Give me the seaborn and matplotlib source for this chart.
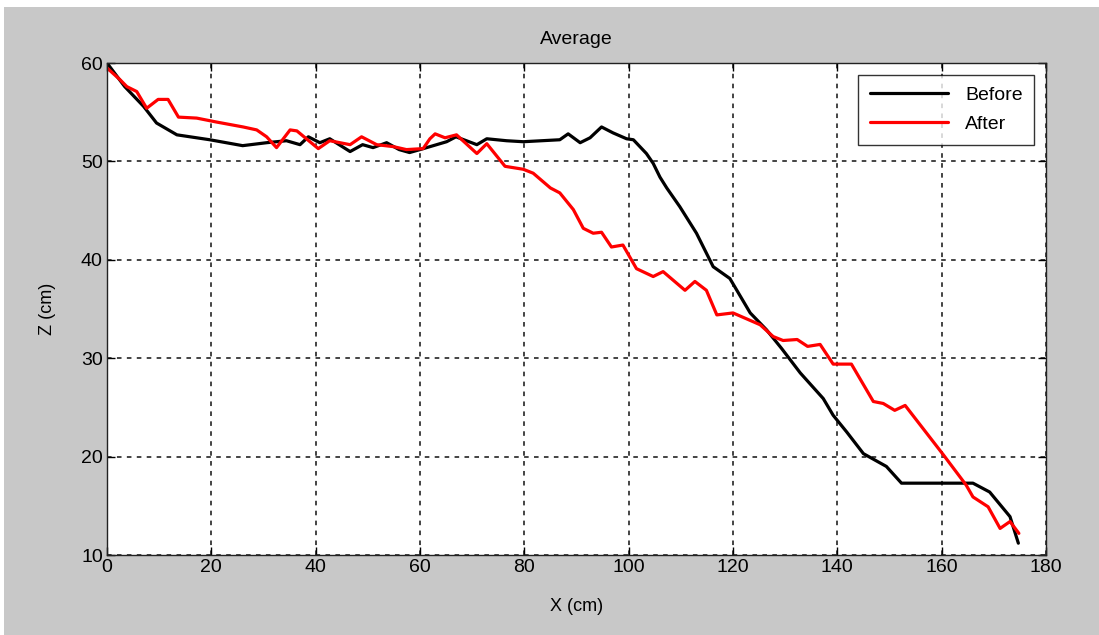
import matplotlib
matplotlib.use("Agg")
import matplotlib.pyplot as plt
from matplotlib.patches import Rectangle
import seaborn as sns
import pandas as pd

before_x = [0, 3.4, 7, 9.5, 13.4, 19.7, 26, 30.6, 34.4, 37, 38.6, 40.8, 42.7, 46.6, 49, 51, 53.6,
            56, 58, 60, 65.1, 66.9, 70.9, 72.8, 76.6, 79.8, 86.8, 88.4, 90.7, 92.6, 94.8, 97, 99.6,
            100.9, 103.4, 104.7, 106, 107.3, 109.8, 113, 116.2, 119.4, 123.3, 126.4, 129.3, 132.9,
            137.3, 139.2, 141.8, 145, 149.4, 152.3, 166, 169.2, 173.1, 174.7]
before_z = [60, 57.6, 55.6, 53.9, 52.7, 52.2, 51.6, 51.9, 52.1, 51.7, 52.5, 51.9, 52.3, 51.0, 51.7, 51.4, 51.9,
            51.2, 50.9, 51.2, 52.0, 52.5, 51.7, 52.3, 52.1, 52.0, 52.2, 52.8, 51.9, 52.4, 53.5, 52.9, 52.3,
            52.2, 50.8, 49.8, 48.4, 47.3, 45.4, 42.7, 39.3, 38.1, 34.6, 32.9, 31.0, 28.5,
            25.9, 24.2, 22.5, 20.3, 19.0, 17.3, 17.3, 16.4, 13.9, 11.2]

after_x = [0, 2.5, 3.8, 5.7, 7.6, 9.8, 11.7, 13.7, 17.2, 21, 26.1, 28.7, 30.6, 32.5, 35.1, 36.4, 40.5,
           42.7, 46.6, 48.8, 51.7, 54.9, 57.4, 60.6, 61.9, 62.9, 64.8, 67, 70.9, 72.8, 76.3, 79.8,
           81.7, 85, 86.8, 89.4, 91.3, 93.2, 94.8, 96.7, 98.9, 101.5, 104.7, 106.6, 110.8, 112.7,
           114.9, 116.9, 120, 125.2, 127.7, 129.6, 132.3, 134.3, 136.7, 139.2, 142.7, 146.9, 148.8,
           151, 153, 160.3, 164.7, 166, 168.9, 171.2, 173.1, 174.8]
after_z = [59.5, 58.3, 57.6, 57.1, 55.4, 56.3, 56.3, 54.5, 54.4, 54.0, 53.5, 53.2, 52.5, 51.4, 53.2, 53.1, 51.3,
           52.1, 51.7, 52.5, 51.7, 51.5, 51.2, 51.3, 52.3, 52.8, 52.4, 52.7, 50.8, 51.8, 49.5, 49.2,
           48.8, 47.3, 46.8, 45.1, 43.2, 42.7, 42.8, 41.3, 41.5, 39.1, 38.3, 38.8, 36.9, 37.8,
           36.9, 34.4, 34.6, 33.4, 32.2, 31.8, 31.9, 31.2, 31.4, 29.4, 29.4, 25.6, 25.4,
           24.7, 25.2, 20.2, 17.1, 15.9, 14.9, 12.7, 13.4, 12.2]

series_names = ["Before", "After"]
x_ticks = [0, 20, 40, 60, 80, 100, 120, 140, 160, 180]
y_ticks = [10, 20, 30, 40, 50, 60]

df = pd.concat([
    pd.DataFrame({"X": before_x, "Z": before_z, "series": series_names[0]}),
    pd.DataFrame({"X": after_x, "Z": after_z, "series": series_names[1]}),
], ignore_index=True)

sns.set_style("ticks")
plt.rcParams["font.family"] = ["Liberation Sans", "DejaVu Sans"]
plt.rcParams["text.color"] = "black"
plt.rcParams["axes.labelcolor"] = "black"

gray = "#c8c8c8"
fig = plt.figure(figsize=(10.99, 6.35), dpi=100, facecolor="white")
fig.patches.append(Rectangle((4 / 1099, 0), 1, 1 - 7 / 635, transform=fig.transFigure,
                             facecolor=gray, edgecolor="none", zorder=-10))
ax = fig.add_axes([107 / 1099, 80 / 635, 939 / 1099, 492 / 635])
ax.set_facecolor("white")

sns.lineplot(data=df, x="X", y="Z", hue="series", palette={"Before": "black", "After": "red"},
             linewidth=2.3, ax=ax, sort=False, estimator=None)

ax.set_xlim(0, 180)
ax.set_ylim(10, 60)
ax.set_xticks(x_ticks)
ax.set_yticks(y_ticks)
ax.grid(True, color="#111111", linestyle=(0, (3, 3.5)), linewidth=1.1)
ax.tick_params(direction="in", top=True, right=True, length=6, width=1, labelsize=14,
               colors="black", pad=3)
for s in ax.spines.values():
    s.set_color("#222222")
    s.set_linewidth(1.0)
    s.set_visible(True)
ax.set_xlabel("X (cm)", fontsize=13, labelpad=16, color="black")
ax.set_ylabel("Z (cm)", fontsize=13, labelpad=18, color="black")
ax.set_title("Average", fontsize=14, pad=14, color="black")

leg = ax.legend(loc="upper right", fontsize=14, frameon=True, fancybox=False, handlelength=4.0,
                borderaxespad=0.6, labelspacing=0.6, borderpad=0.6, handletextpad=0.9)
leg.get_frame().set_edgecolor("black")
leg.get_frame().set_linewidth(1.0)
leg.set_title(None)
for t in leg.get_texts():
    t.set_color("black")

fig.savefig("out.png", dpi=100, facecolor=fig.get_facecolor())
